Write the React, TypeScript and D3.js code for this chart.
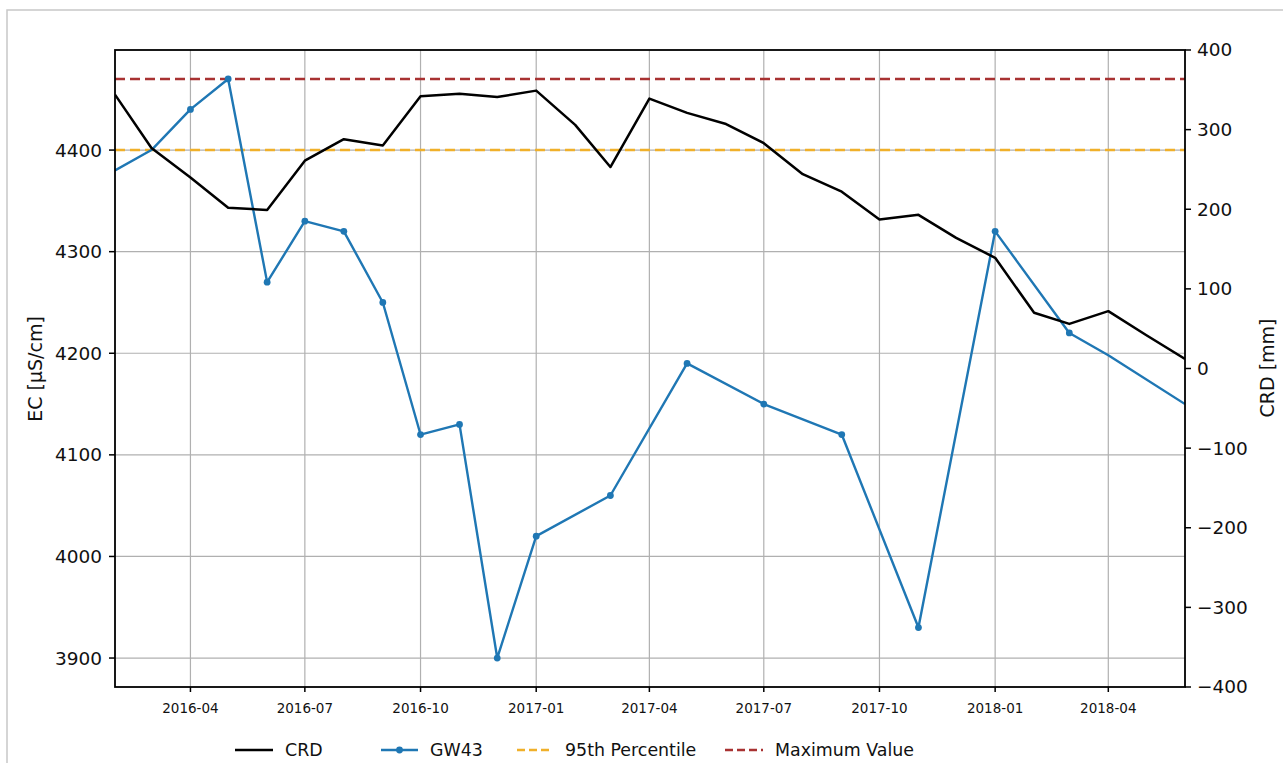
import React from "react";
import * as d3 from "d3";

// ---- data ----
const crdMonths = [
  "2016-02", "2016-03", "2016-04", "2016-05", "2016-06", "2016-07", "2016-08", "2016-09",
  "2016-10", "2016-11", "2016-12", "2017-01", "2017-02", "2017-03", "2017-04", "2017-05",
  "2017-06", "2017-07", "2017-08", "2017-09", "2017-10", "2017-11", "2017-12", "2018-01",
  "2018-02", "2018-03", "2018-04", "2018-05", "2018-06",
];
const crdValues = [
  344, 277, 240, 202, 199, 261, 288, 280,
  342, 345, 341, 349, 306, 253, 339, 321,
  307, 283, 244, 222, 187, 193, 164, 139,
  70, 56, 72, 42, 12,
];

const gwMonths = [
  "2016-02", "2016-03", "2016-04", "2016-05", "2016-06", "2016-07", "2016-08", "2016-09",
  "2016-10", "2016-11", "2016-12", "2017-01", "2017-03", "2017-05", "2017-07", "2017-09",
  "2017-11", "2018-01", "2018-03", "2018-04", "2018-06",
];
const gwValues = [
  4380, 4400, 4440, 4470, 4270, 4330, 4320, 4250,
  4120, 4130, 3900, 4020, 4060, 4190, 4150, 4120,
  3930, 4320, 4220, 4198, 4150,
];
const gwMarked = [
  false, false, true, true, true, true, true, true,
  true, true, true, true, true, true, true, true,
  true, true, true, false, false,
];

const percentile95 = 4400;
const maximumValue = 4470;

const xDomain = ["2016-02", "2018-06"];
const xTickLabels = ["2016-04", "2016-07", "2016-10", "2017-01", "2017-04", "2017-07", "2017-10", "2018-01", "2018-04"];
const ecTicks = [3900, 4000, 4100, 4200, 4300, 4400];
const ecDomain = [3871.5, 4498.5];
const crdTicks = [-400, -300, -200, -100, 0, 100, 200, 300, 400];
const crdDomain = [-400, 400];

const legendItems = ["CRD", "GW43", "95th Percentile", "Maximum Value"];

// ---- layout ----
const W = 1283;
const H = 763;
const L = 115, R = 1185, T = 50, B = 687;
const FONT = "DejaVu Sans, sans-serif";
const BLUE = "#1f77b4";
const ORANGE = "#f0b02a";
const RED = "#a83232";
const GRID = "#b0b0b0";

const parse = d3.utcParse("%Y-%m");

export default function App() {
  const x = d3.scaleUtc().domain(xDomain.map((s) => parse(s) as Date)).range([L, R]);
  const yEC = d3.scaleLinear().domain(ecDomain).range([B, T]);
  const yCRD = d3.scaleLinear().domain(crdDomain).range([B, T]);

  const crdData = crdMonths.map((m, i) => ({ d: parse(m) as Date, v: crdValues[i] }));
  const gwData = gwMonths.map((m, i) => ({ d: parse(m) as Date, v: gwValues[i], mk: gwMarked[i] }));

  const crdLine = d3.line<{ d: Date; v: number }>().x((p) => x(p.d)).y((p) => yCRD(p.v));
  const gwLine = d3.line<{ d: Date; v: number }>().x((p) => x(p.d)).y((p) => yEC(p.v));

  const legendY = 750;
  const legendX = [235, 381, 517, 725];
  const legendTextX = [285, 430, 565, 775];

  return (
    <svg
      width={W}
      height={H}
      style={{ position: "absolute", left: 0, top: 0, display: "block", background: "#fff" }}
      fontFamily={FONT}
    >
      <defs>
        <clipPath id="plotclip">
          <rect x={L} y={T} width={R - L} height={B - T} />
        </clipPath>
      </defs>
      {/* outer frame */}
      <rect x={7} y={10} width={W + 20} height={H + 20} fill="none" stroke="#c8c8c8" strokeWidth={1.5} />

      {/* grid */}
      <g>
        {xTickLabels.map((t) => (
          <line key={t} x1={x(parse(t) as Date)} x2={x(parse(t) as Date)} y1={T} y2={B} stroke={GRID} strokeWidth={1.2} />
        ))}
        {ecTicks.map((t) => (
          <line key={t} x1={L} x2={R} y1={yEC(t)} y2={yEC(t)} stroke={GRID} strokeWidth={1.2} />
        ))}
      </g>

      <g clipPath="url(#plotclip)">
        {/* reference lines */}
        <line x1={L} x2={R} y1={yEC(percentile95)} y2={yEC(percentile95)} stroke={ORANGE} strokeWidth={2.6} strokeDasharray="10,5" />
        <line x1={L} x2={R} y1={yEC(maximumValue)} y2={yEC(maximumValue)} stroke={RED} strokeWidth={2.6} strokeDasharray="10,5" />
        {/* GW43 */}
        <path d={gwLine(gwData) || ""} fill="none" stroke={BLUE} strokeWidth={2.4} strokeLinejoin="round" />
        {gwData.filter((p) => p.mk).map((p, i) => (
          <circle key={i} cx={x(p.d)} cy={yEC(p.v)} r={3.4} fill={BLUE} />
        ))}
        {/* CRD */}
        <path d={crdLine(crdData) || ""} fill="none" stroke="#000" strokeWidth={2.5} strokeLinejoin="round" />
      </g>

      {/* spines */}
      <rect x={L} y={T} width={R - L} height={B - T} fill="none" stroke="#000" strokeWidth={1.8} />

      {/* left axis */}
      <g>
        {ecTicks.map((t) => (
          <g key={t}>
            <line x1={L - 6} x2={L} y1={yEC(t)} y2={yEC(t)} stroke="#000" strokeWidth={1.5} />
            <text x={L - 13} y={yEC(t)} dy="0.35em" textAnchor="end" fontSize={18.5} fill="#111">
              {t}
            </text>
          </g>
        ))}
        <text transform={`translate(35,369) rotate(-90)`} textAnchor="middle" dy="0.35em" fontSize={19} fill="#111">
          EC [µS/cm]
        </text>
      </g>

      {/* right axis */}
      <g>
        {crdTicks.map((t) => (
          <g key={t}>
            <line x1={R} x2={R + 6} y1={yCRD(t)} y2={yCRD(t)} stroke="#000" strokeWidth={1.5} />
            <text x={R + 12} y={yCRD(t)} dy="0.35em" textAnchor="start" fontSize={18.5} fill="#111">
              {t < 0 ? "\u2212" + Math.abs(t) : t}
            </text>
          </g>
        ))}
        <text transform={`translate(1267,368) rotate(-90)`} textAnchor="middle" dy="0.35em" fontSize={19} fill="#111">
          CRD [mm]
        </text>
      </g>

      {/* x axis */}
      <g>
        {xTickLabels.map((t) => (
          <g key={t}>
            <line x1={x(parse(t) as Date)} x2={x(parse(t) as Date)} y1={B} y2={B + 5} stroke="#000" strokeWidth={1.5} />
            <text x={x(parse(t) as Date)} y={708} dy="0.35em" textAnchor="middle" fontSize={13.5} fill="#111">
              {t}
            </text>
          </g>
        ))}
      </g>

      {/* legend */}
      <g>
        <line x1={legendX[0]} x2={legendX[0] + 38} y1={legendY} y2={legendY} stroke="#000" strokeWidth={2.5} />
        <line x1={legendX[1]} x2={legendX[1] + 37} y1={legendY} y2={legendY} stroke={BLUE} strokeWidth={2.4} />
        <circle cx={legendX[1] + 18.5} cy={legendY} r={3.4} fill={BLUE} />
        <line x1={legendX[2]} x2={legendX[2] + 36} y1={legendY} y2={legendY} stroke={ORANGE} strokeWidth={2.6} strokeDasharray="8,4" />
        <line x1={legendX[3]} x2={legendX[3] + 38} y1={legendY} y2={legendY} stroke={RED} strokeWidth={2.6} strokeDasharray="8,4" />
        {legendItems.map((s, i) => (
          <text key={s} x={legendTextX[i]} y={legendY} dy="0.35em" fontSize={17.4} fill="#111">
            {s}
          </text>
        ))}
      </g>
    </svg>
  );
}
